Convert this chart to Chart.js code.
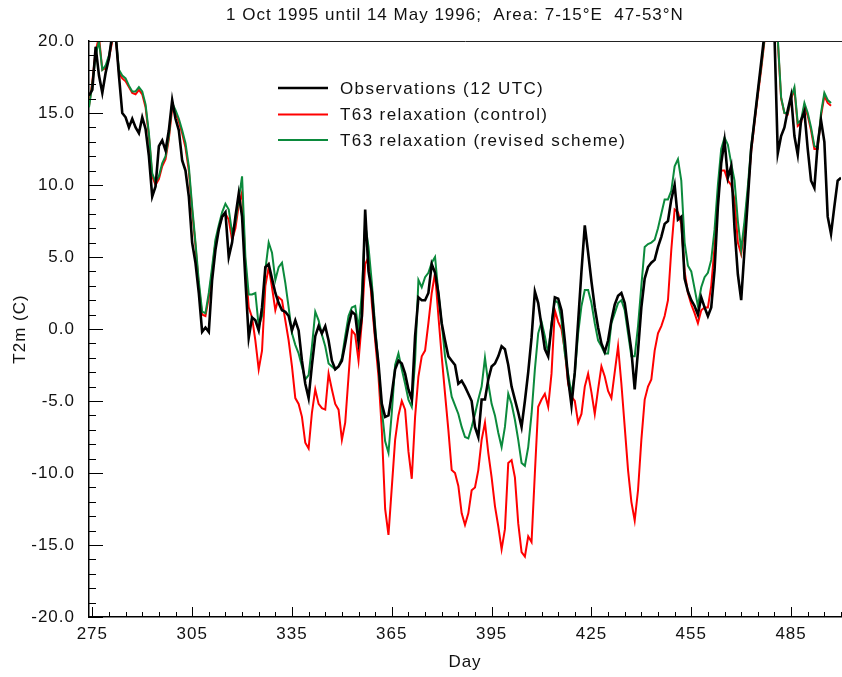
<!DOCTYPE html>
<html>
<head>
<meta charset="utf-8">
<title>T2m 1995/96</title>
<script src="https://cdn.jsdelivr.net/npm/chart.js@4.4.1/dist/chart.umd.min.js"></script>
<style>
  html, body { margin: 0; padding: 0; background: #ffffff; overflow: hidden; }
  #wrap { position: relative; width: 842px; height: 677px; }
</style>
</head>
<body>
<div id="wrap"><canvas id="chart" width="842" height="677"></canvas></div>
<script>
// Daily 2 m temperature (deg C), area mean 7-15E / 47-53N, from day 274 onwards
const startDay = 274;

const observations = [
  16.2, 16.6, 19.6, 17.6, 16.4, 17.8, 18.8, 20.5, 20.5, 17.6,
  15.0, 14.7, 14.0, 14.6, 14.0, 13.6, 14.7, 13.9, 12.0, 9.2,
  9.9, 12.7, 13.1, 12.4, 13.8, 15.9, 14.6, 13.8, 11.7, 11.0,
  9.2, 6.0, 4.6, 2.5, -0.2, 0.1, -0.2, 3.4, 5.5, 6.9,
  7.8, 8.1, 5.0, 6.0, 7.8, 9.4, 7.8, 3.4, -0.6, 0.8,
  0.6, -0.1, 1.5, 4.3, 4.5, 3.5, 2.5, 1.8, 1.3, 1.2,
  0.9, -0.1, 0.6, -0.1, -2.2, -3.8, -4.8, -2.5, -0.5, 0.2,
  -0.3, 0.2, -0.8, -2.2, -2.8, -2.6, -2.2, -1.0, 0.3, 1.2,
  1.0, -0.9, 0.9, 8.3, 4.0, 2.6, -0.3, -2.4, -5.2, -6.1,
  -6.0, -4.5, -2.8, -2.2, -2.4, -3.1, -4.2, -4.9, -0.5, 2.2,
  2.0, 2.0, 2.5, 4.5, 3.9, 2.5, 0.4, -0.8, -1.9, -2.2,
  -2.5, -3.8, -3.6, -4.0, -4.5, -5.0, -6.8, -7.5, -4.9, -4.9,
  -3.5, -2.6, -2.4, -1.9, -1.2, -1.4, -2.5, -4.0, -4.9, -5.8,
  -6.8, -5.0, -3.0, -0.6, 2.6, 1.8, 0.2, -1.4, -1.9, 0.2,
  2.2, 2.1, 1.3, -0.8, -3.5, -5.3, -3.0, 0.5, 4.0, 7.2,
  5.3, 3.3, 1.5, 0.1, -1.0, -1.6, -0.8, 0.6, 1.7, 2.3,
  2.5, 1.8, 0.2, -1.5, -4.2, -1.5, 1.5, 3.5, 4.3, 4.6,
  4.8, 5.7, 6.4, 7.3, 7.5, 9.0, 10.0, 7.6, 7.8, 3.5,
  2.6, 2.0, 1.6, 1.0, 2.2, 1.5, 0.9, 1.5, 4.1, 8.5,
  11.5, 13.1, 10.5, 11.3, 7.0, 3.8, 2.0, 5.5, 9.0, 12.5,
  14.5, 16.5, 18.5, 20.5, 21.0, 21.0, 20.5, 12.2, 13.4, 14.0,
  15.2, 16.2, 13.4, 12.1, 14.5, 15.1, 12.5, 10.3, 9.8, 12.9,
  14.5, 13.0, 7.8, 6.6, 8.5, 10.3, 10.5
];

const control = [
  15.5, 17.2, 19.3, 20.3, 18.0, 18.1, 18.8, 20.0, 20.3, 17.8,
  17.4, 17.2, 16.8, 16.4, 16.3, 16.6, 16.3, 15.4, 13.4, 10.6,
  10.0, 10.4, 11.3, 11.8, 13.2, 15.3, 15.0, 14.4, 13.6, 12.6,
  11.0, 8.2, 5.8, 3.0, 1.0, 0.9, 2.2, 4.0, 6.0, 7.0,
  7.8, 8.0, 7.6, 6.2, 7.0, 8.6, 9.5, 4.5, 1.5, 0.8,
  -0.8, -2.8, -1.5, 3.0, 4.3, 2.9, 1.3, 2.2, 2.0, 0.6,
  -0.8, -2.6, -4.8, -5.2, -6.1, -7.9, -8.3, -5.8, -4.2, -5.2,
  -5.5, -5.6, -3.1, -4.2, -5.2, -5.6, -7.7, -6.5, -3.3, -0.1,
  -0.4, -2.2, 0.5, 4.5, 5.0, 1.8, -0.8, -3.3, -7.0, -12.5,
  -14.3, -11.0, -7.7, -6.0, -5.0, -5.6, -8.5, -10.4, -6.1, -3.3,
  -1.9, -1.5, 0.4, 2.5, 3.9, 0.9, -1.9, -4.5, -7.0, -9.8,
  -10.0, -10.9, -12.8, -13.6, -12.8, -11.2, -11.0, -9.8, -7.7, -6.5,
  -8.6, -10.3, -12.3, -13.7, -15.3, -13.9, -9.3, -9.1, -10.3, -13.5,
  -15.5, -15.8, -14.4, -14.8, -10.0, -5.4, -4.9, -4.5, -5.4, -3.1,
  1.3, 0.5, 0.0, -1.5, -3.8, -4.7, -5.0, -6.5, -5.9, -4.0,
  -3.1, -4.4, -5.9, -4.2, -2.6, -3.3, -4.3, -4.8, -3.0, -1.2,
  -3.8, -6.8, -9.8, -12.0, -13.3, -11.2, -7.7, -4.9, -4.0, -3.5,
  -1.5, -0.3, 0.2, 0.9, 2.0, 5.5, 8.3, 8.1, 7.3, 4.0,
  2.5, 1.7, 1.1, 0.4, 1.3, 1.5, 1.5, 3.0, 5.7, 9.2,
  11.0, 11.0, 10.3, 10.0, 9.0, 6.0, 5.2, 7.0, 9.5, 12.3,
  14.3, 16.2, 18.0, 20.0, 20.8, 21.0, 20.8, 20.0, 16.0, 15.0,
  14.9, 16.0, 16.6, 14.1, 14.3, 15.5, 14.8, 13.8, 12.5, 12.5,
  14.8, 16.2, 15.7, 15.5
];

const revised = [
  15.4, 17.0, 19.0, 20.0, 18.0, 18.3, 19.0, 20.2, 20.4, 18.0,
  17.6, 17.4, 16.9, 16.5, 16.5, 16.8, 16.5, 15.6, 13.6, 10.8,
  10.2, 10.6, 11.5, 12.0, 13.4, 15.7, 15.2, 14.6, 13.8, 12.9,
  11.3, 8.5, 6.0, 3.3, 1.2, 1.1, 2.5, 4.3, 6.2, 7.2,
  8.1, 8.7, 8.3, 6.7, 7.4, 9.0, 10.6, 5.0, 2.4, 2.4,
  2.5, 0.2, 0.9, 4.1, 6.0, 5.3, 3.4, 4.3, 4.6, 3.2,
  1.5, -0.3, -1.1, -1.7, -2.6, -3.5, -3.2, -1.2, 1.2, 0.6,
  -0.4, -1.2, -2.4, -2.6, -2.8, -2.6, -2.0, -0.5, 0.9, 1.5,
  1.6, 0.0, 2.5, 7.3, 5.7, 3.2, 0.2, -2.6, -5.6, -7.8,
  -8.6, -5.8, -2.5, -1.7, -2.8, -3.8, -4.9, -5.4, -2.2, 3.4,
  2.9, 3.6, 3.9, 4.6, 5.0, 2.5, 0.4, -1.9, -3.3, -4.7,
  -5.3, -5.9, -6.8, -7.5, -7.6, -6.8, -5.9, -4.9, -4.0, -2.0,
  -3.8, -5.2, -6.0, -7.2, -8.2, -6.8, -4.5, -5.2, -6.3, -7.7,
  -9.3, -9.5, -8.2, -5.9, -2.8, -0.3, 0.5, -0.5, -1.7, 0.4,
  2.0, 1.8, 0.6, -1.7, -3.1, -4.5, -3.1, -0.3, 1.6, 2.7,
  2.7, 1.8, 0.4, -0.8, -1.2, -1.7, -1.7, 0.4, 1.1, 1.8,
  2.0, 1.3, -0.3, -1.9, -1.9, 0.2, 3.0, 5.7, 5.9, 6.0,
  6.2, 7.0, 8.0, 9.0, 9.0, 9.6, 11.3, 11.8, 10.3, 6.0,
  4.4, 4.0, 2.8, 1.6, 2.9, 3.6, 3.9, 4.8, 6.9, 10.0,
  12.5, 13.3, 12.8, 11.5, 10.3, 7.5, 5.5, 7.5, 9.9, 12.7,
  14.5, 16.4, 18.2, 20.2, 20.8, 21.0, 20.8, 20.2, 16.1, 15.0,
  15.0, 16.1, 16.8, 14.3, 14.5, 15.7, 15.0, 14.0, 12.7, 12.6,
  15.0, 16.4, 15.9, 15.7
];

const dayTicks = [275, 305, 335, 365, 395, 425, 455, 485];
const tempTicks = [-20, -15, -10, -5, 0, 5, 10, 15, 20];
const seriesNames = ['Observations (12 UTC)', 'T63 relaxation (control)', 'T63 relaxation (revised scheme)'];
const seriesColors = ['#000000', '#ff0000', '#0b8a3c'];
const titleText = '1 Oct 1995 until 14 May 1996;  Area: 7-15\u00b0E  47-53\u00b0N';

const FONT = '"Liberation Sans", Arial, Helvetica, sans-serif';
const TEXT = '#111111';

function toPoints(values) {
  return values.map((v, i) => ({ x: startDay + i, y: v }));
}

// Wider glyph spacing for every label on the canvas
const spacing = {
  id: 'spacing',
  beforeUpdate(chart) { chart.ctx.letterSpacing = '1px'; },
  beforeDraw(chart) { chart.ctx.letterSpacing = '1px'; }
};

// Title, legend block, top frame line and inward tick marks
const decorations = {
  id: 'decorations',
  afterDraw(chart) {
    const ctx = chart.ctx;
    const area = chart.chartArea;
    const xs = chart.scales.x;
    const ys = chart.scales.y;
    ctx.save();

    // top frame line
    ctx.strokeStyle = '#222';
    ctx.lineWidth = 1;
    ctx.beginPath();
    ctx.moveTo(area.left, area.top + 0.5);
    ctx.lineTo(chart.width, area.top + 0.5);
    ctx.stroke();

    // inward tick marks on the day axis (every 5 days, long every 30)
    ctx.strokeStyle = '#000';
    ctx.lineWidth = 1;
    ctx.beginPath();
    for (let d = 275; d <= 500; d += 5) {
      const px = Math.round(xs.getPixelForValue(d)) + 0.5;
      const len = (d - 275) % 30 === 0 ? 10 : 5;
      ctx.moveTo(px, area.bottom);
      ctx.lineTo(px, area.bottom - len);
    }
    // inward tick marks on the temperature axis (every 1 C, long every 5 C)
    for (let t = -20; t <= 20; t += 1) {
      const py = Math.round(ys.getPixelForValue(t)) + 0.5;
      const len = t % 5 === 0 ? 14 : 7;
      ctx.moveTo(area.left, py);
      ctx.lineTo(area.left + len, py);
    }
    ctx.stroke();

    ctx.letterSpacing = '1px';
    ctx.fillStyle = TEXT;
    ctx.font = '17px ' + FONT;

    // title
    ctx.textAlign = 'center';
    ctx.textBaseline = 'middle';
    ctx.fillText(titleText, 455, 15);

    // legend
    const rows = [88, 114.5, 140];
    const widths = [2.6, 2, 2];
    ctx.textAlign = 'left';
    ctx.letterSpacing = '1.4px';
    rows.forEach((y, i) => {
      ctx.strokeStyle = seriesColors[i];
      ctx.lineWidth = widths[i];
      ctx.beginPath();
      ctx.moveTo(278, y);
      ctx.lineTo(328, y);
      ctx.stroke();
      ctx.fillStyle = TEXT;
      ctx.fillText(seriesNames[i], 340, y + 1);
    });
    ctx.restore();
  }
};

Chart.defaults.font.family = FONT;
Chart.defaults.font.size = 17;
Chart.defaults.color = TEXT;

new Chart(document.getElementById('chart'), {
  type: 'line',
  data: {
    datasets: [
      {
        label: seriesNames[0],
        data: toPoints(observations),
        borderColor: seriesColors[0],
        borderWidth: 2.6,
        order: 0
      },
      {
        label: seriesNames[1],
        data: toPoints(control),
        borderColor: seriesColors[1],
        borderWidth: 2,
        order: 2
      },
      {
        label: seriesNames[2],
        data: toPoints(revised),
        borderColor: seriesColors[2],
        borderWidth: 2,
        order: 1
      }
    ]
  },
  options: {
    responsive: false,
    animation: false,
    devicePixelRatio: 1,
    parsing: false,
    normalized: true,
    elements: {
      point: { radius: 0, hoverRadius: 0 },
      line: { tension: 0, fill: false, borderJoinStyle: 'miter', borderCapStyle: 'butt' }
    },
    datasets: { line: { clip: 0 } },
    layout: { padding: { left: 0, right: 1, top: 41, bottom: 0 } },
    plugins: {
      legend: { display: false },
      title: { display: false },
      tooltip: { enabled: false }
    },
    events: [],
    scales: {
      x: {
        type: 'linear',
        min: startDay,
        max: 500,
        afterBuildTicks: s => { s.ticks = dayTicks.map(v => ({ value: v })); },
        afterFit: s => { s.height = 60; },
        grid: { display: false, drawTicks: false },
        border: { display: true, color: '#000', width: 1.5 },
        ticks: {
          autoSkip: false,
          maxRotation: 0,
          padding: 7,
          color: TEXT,
          callback: v => String(v)
        },
        title: {
          display: true,
          text: 'Day',
          color: TEXT,
          font: { size: 17 },
          padding: { top: 4, bottom: 4 }
        }
      },
      y: {
        type: 'linear',
        min: -20,
        max: 20,
        afterBuildTicks: s => { s.ticks = tempTicks.map(v => ({ value: v })); },
        afterFit: s => { s.width = 89; },
        grid: { display: false, drawTicks: false },
        border: { display: true, color: '#000', width: 1.5 },
        ticks: {
          padding: 14,
          color: TEXT,
          callback: v => Number(v).toFixed(1)
        },
        title: {
          display: true,
          text: 'T2m (C)',
          color: TEXT,
          font: { size: 17 },
          padding: { top: 10, bottom: 4 }
        }
      }
    }
  },
  plugins: [spacing, decorations]
});
</script>
</body>
</html>
